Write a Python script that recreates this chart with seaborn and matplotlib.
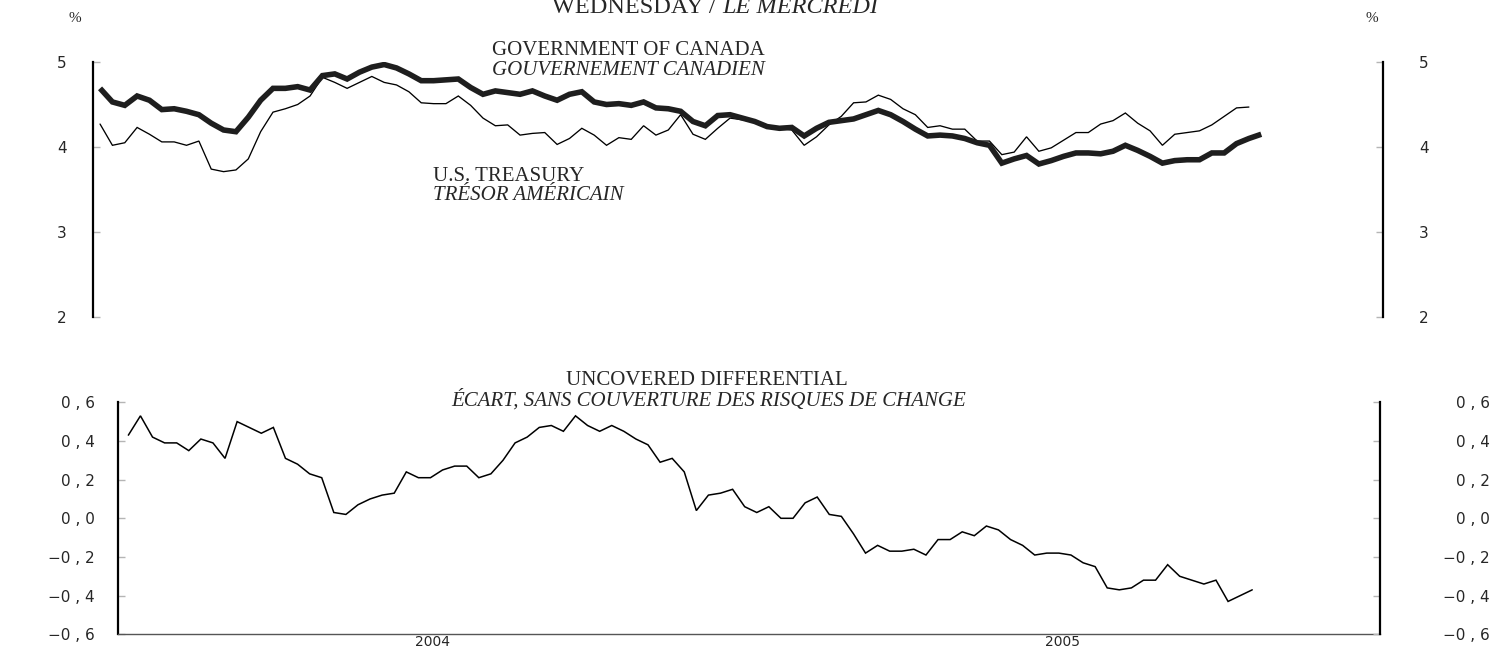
import numpy as np
import pandas as pd
import matplotlib
matplotlib.use("Agg")
import matplotlib.pyplot as plt
import matplotlib.ticker as mticker
import seaborn as sns

# ---------------- data (weekly, Wednesdays) ----------------
start_date = "2004-01-07"

canada = [4.69, 4.53, 4.49, 4.60, 4.55, 4.44, 4.45, 4.42, 4.38, 4.28,
          4.20, 4.18, 4.35, 4.55, 4.69, 4.69, 4.71, 4.67, 4.84, 4.86,
          4.80, 4.88, 4.94, 4.97, 4.93, 4.86, 4.78, 4.78, 4.79, 4.80,
          4.70, 4.62, 4.66, 4.64, 4.62, 4.66, 4.60, 4.55, 4.62, 4.65,
          4.53, 4.50, 4.51, 4.49, 4.53, 4.46, 4.45, 4.42, 4.30, 4.25,
          4.37, 4.38, 4.34, 4.30, 4.24, 4.22, 4.23, 4.13, 4.22, 4.29,
          4.31, 4.33, 4.38, 4.43, 4.38, 4.30, 4.21, 4.13, 4.14, 4.13,
          4.10, 4.05, 4.02, 3.81, 3.86, 3.90, 3.80, 3.84, 3.89, 3.93,
          3.93, 3.92, 3.95, 4.02, 3.96, 3.89, 3.81, 3.84, 3.85, 3.85,
          3.93, 3.93, 4.04, 4.10, 4.15]

us_treasury = [4.27, 4.02, 4.05, 4.23, 4.15, 4.06, 4.06, 4.02, 4.07, 3.74,
               3.71, 3.73, 3.86, 4.18, 4.41, 4.45, 4.50, 4.60, 4.82, 4.76,
               4.69, 4.76, 4.83, 4.76, 4.73, 4.65, 4.52, 4.51, 4.51, 4.60,
               4.49, 4.34, 4.25, 4.26, 4.14, 4.16, 4.17, 4.03, 4.10, 4.22,
               4.14, 4.02, 4.11, 4.09, 4.25, 4.14, 4.20, 4.38, 4.15, 4.09,
               4.22, 4.34, 4.32, 4.29, 4.25, 4.22, 4.20, 4.02, 4.12, 4.26,
               4.36, 4.52, 4.53, 4.61, 4.56, 4.45, 4.38, 4.23, 4.25, 4.21,
               4.21, 4.07, 4.07, 3.91, 3.94, 4.12, 3.95, 3.99, 4.08, 4.17,
               4.17, 4.27, 4.31, 4.40, 4.28, 4.19, 4.02, 4.15, 4.17, 4.19,
               4.26, 4.36, 4.46, 4.47]

differential = [0.43, 0.53, 0.42, 0.39, 0.39, 0.35, 0.41, 0.39, 0.31, 0.50,
                0.47, 0.44, 0.47, 0.31, 0.28, 0.23, 0.21, 0.03, 0.02, 0.07,
                0.10, 0.12, 0.13, 0.24, 0.21, 0.21, 0.25, 0.27, 0.27, 0.21,
                0.23, 0.30, 0.39, 0.42, 0.47, 0.48, 0.45, 0.53, 0.48, 0.45,
                0.48, 0.45, 0.41, 0.38, 0.29, 0.31, 0.24, 0.04, 0.12, 0.13,
                0.15, 0.06, 0.03, 0.06, 0.00, 0.00, 0.08, 0.11, 0.02, 0.01,
                -0.08, -0.18, -0.14, -0.17, -0.17, -0.16, -0.19, -0.11, -0.11, -0.07,
                -0.09, -0.04, -0.06, -0.11, -0.14, -0.19, -0.18, -0.18, -0.19, -0.23,
                -0.25, -0.36, -0.37, -0.36, -0.32, -0.32, -0.24, -0.30, -0.32, -0.34,
                -0.32, -0.43, -0.40, -0.37]

top_yticks = [2, 3, 4, 5]
top_yticklabels = ["2", "3", "4", "5"]
bottom_yticks = [-0.6, -0.4, -0.2, 0.0, 0.2, 0.4, 0.6]
bottom_yticklabels = ["\u22120 , 6", "\u22120 , 4", "\u22120 , 2", "0 , 0",
                      "0 , 2", "0 , 4", "0 , 6"]
year_tick_dates = ["2004-01-01", "2004-07-01", "2005-01-01", "2005-07-01", "2006-01-01"]
year_tick_labels = ["", "2004", "", "2005", ""]

# ---------------- frames ----------------
df_can = pd.DataFrame({"date": pd.date_range(start_date, periods=len(canada), freq="7D"),
                       "value": canada})
df_us = pd.DataFrame({"date": pd.date_range(start_date, periods=len(us_treasury), freq="7D"),
                      "value": us_treasury})
df_diff = pd.DataFrame({"date": pd.date_range(start_date, periods=len(differential), freq="7D"),
                        "value": differential})

sns.set_theme(style="white")
plt.rcParams["font.family"] = ["DejaVu Sans"]

W, H = 1505, 650
fig = plt.figure(figsize=(W / 100, H / 100), dpi=100)
fig.patch.set_facecolor("white")

def fx(px):
    return px / W

def fy(py):
    return 1 - py / H

PT = 72 / 100  # points per pixel

# ---------------- top panel ----------------
ax1 = fig.add_axes([fx(93), fy(317), (1383 - 93) / W, (317 - 62) / H])
sns.lineplot(data=df_us, x="date", y="value", ax=ax1, color="black",
             linewidth=0.95, solid_joinstyle="miter")
sns.lineplot(data=df_can, x="date", y="value", ax=ax1, color="#1e1e1e",
             linewidth=4.0, solid_joinstyle="miter", solid_capstyle="butt")
ax1.set_xlim(pd.Timestamp("2004-01-03"), pd.Timestamp("2006-01-03"))
ax1.set_ylim(2, 5)
ax1.set_xlabel("")
ax1.set_ylabel("")
ax1.set_xticks([])
for s in ["top", "bottom", "right"]:
    ax1.spines[s].set_visible(False)
ax1.spines["left"].set_linewidth(1.6)
ax1.spines["left"].set_color("black")
ax1.yaxis.set_major_locator(mticker.FixedLocator(top_yticks))
ax1.yaxis.set_major_formatter(mticker.FixedFormatter(top_yticklabels))
ax1.tick_params(axis="y", direction="in", length=5, width=1, color="#b5b5b5",
                labelsize=11, pad=26 * PT, left=True, right=False)
ax1.patch.set_alpha(0)

ax1r = ax1.twinx()
ax1r.set_ylim(2, 5)
for s in ["top", "bottom", "left"]:
    ax1r.spines[s].set_visible(False)
ax1r.spines["right"].set_linewidth(1.6)
ax1r.spines["right"].set_color("black")
ax1r.yaxis.set_major_locator(mticker.FixedLocator(top_yticks))
ax1r.yaxis.set_major_formatter(mticker.FixedFormatter(top_yticklabels))
ax1r.tick_params(axis="y", direction="in", length=5, width=1, color="#b5b5b5",
                 labelsize=11, pad=36 * PT)

# ---------------- bottom panel ----------------
ax2 = fig.add_axes([fx(118), fy(634.3), (1380 - 118) / W, (634.3 - 402.3) / H])
sns.lineplot(data=df_diff, x="date", y="value", ax=ax2, color="black",
             linewidth=1.1, solid_joinstyle="miter")
ax2.set_xlim(pd.Timestamp("2004-01-01"), pd.Timestamp("2006-01-01"))
ax2.set_ylim(-0.6, 0.6)
ax2.set_xlabel("")
ax2.set_ylabel("")
ax2.spines["top"].set_visible(False)
ax2.spines["right"].set_visible(False)
ax2.spines["left"].set_linewidth(1.6)
ax2.spines["left"].set_color("black")
ax2.spines["bottom"].set_linewidth(1.0)
ax2.spines["bottom"].set_color("#555555")

major_dates = [matplotlib.dates.date2num(pd.Timestamp(d)) for d in year_tick_dates]
minor_dates = [matplotlib.dates.date2num(d) for d in pd.date_range("2004-01-01", "2006-01-01", freq="MS")]
ax2.xaxis.set_major_locator(mticker.FixedLocator(major_dates))
ax2.xaxis.set_major_formatter(mticker.FixedFormatter(year_tick_labels))
ax2.xaxis.set_minor_locator(mticker.FixedLocator(minor_dates))
ax2.tick_params(axis="x", which="major", direction="in", length=6, width=1.3,
                color="#333333", labelsize=10, pad=0.5)
ax2.tick_params(axis="x", which="minor", direction="in", length=3, width=0.9,
                color="#666666")

ax2.yaxis.set_major_locator(mticker.FixedLocator(bottom_yticks))
ax2.yaxis.set_major_formatter(mticker.FixedFormatter(bottom_yticklabels))
ax2.tick_params(axis="y", direction="in", length=5, width=1, color="#b5b5b5",
                labelsize=11, pad=23 * PT, left=True, right=False)
ax2.patch.set_alpha(0)

ax2r = ax2.twinx()
ax2r.set_ylim(-0.6, 0.6)
for s in ["top", "bottom", "left"]:
    ax2r.spines[s].set_visible(False)
ax2r.spines["right"].set_linewidth(1.6)
ax2r.spines["right"].set_color("black")
ax2r.yaxis.set_major_locator(mticker.FixedLocator(bottom_yticks))
ax2r.yaxis.set_major_formatter(mticker.FixedFormatter(bottom_yticklabels))
ax2r.tick_params(axis="y", direction="in", length=5, width=1, color="#b5b5b5",
                 labelsize=11, pad=110 * PT)
for lbl in ax2r.get_yticklabels():
    lbl.set_horizontalalignment("right")

# ---------------- texts ----------------
serif = "Liberation Serif"
fig.text(fx(716), fy(13), "WEDNESDAY /", family=serif, fontsize=17.5,
         ha="right", va="baseline")
fig.text(fx(722), fy(13), "LE MERCREDI", family=serif, fontsize=17.5,
         style="italic", ha="left", va="baseline")

fig.text(fx(75), fy(18), "%", family=serif, fontsize=11, ha="center", va="center")
fig.text(fx(1372), fy(18), "%", family=serif, fontsize=11, ha="center", va="center")

fig.text(fx(492), fy(55), "GOVERNMENT OF CANADA", family=serif, fontsize=15,
         ha="left", va="baseline")
fig.text(fx(492), fy(75), "GOUVERNEMENT CANADIEN", family=serif, fontsize=15,
         style="italic", ha="left", va="baseline")

fig.text(fx(433), fy(181), "U.S. TREASURY", family=serif, fontsize=15,
         ha="left", va="baseline")
fig.text(fx(433), fy(200), "TRÉSOR AMÉRICAIN", family=serif, fontsize=15,
         style="italic", ha="left", va="baseline")

fig.text(fx(707), fy(385), "UNCOVERED DIFFERENTIAL", family=serif, fontsize=15,
         ha="center", va="baseline")
fig.text(fx(709), fy(406), "ÉCART, SANS COUVERTURE DES RISQUES DE CHANGE",
         family=serif, fontsize=15, style="italic", ha="center", va="baseline")

fig.savefig("out.png", dpi=100, facecolor="white")
